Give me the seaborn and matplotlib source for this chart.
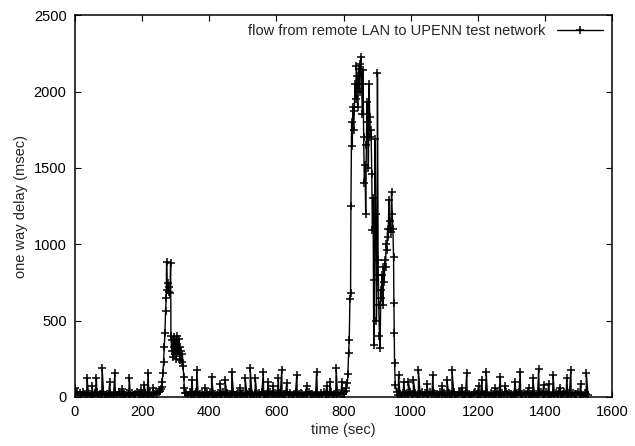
import numpy as np
import pandas as pd
import matplotlib
matplotlib.use("Agg")
import matplotlib.pyplot as plt
import seaborn as sns

# =========================
# DATA
# =========================
# quiet periods: one sample every 5 s, delay in msec
base1_start = 0
base1_vals = [20, 35, 15, 25, 10, 30, 18, 12, 28, 22, 15, 8, 25, 30, 12, 20, 18,
              35, 10, 22, 15, 28, 12, 18, 25, 10, 30, 20, 15, 22, 12, 28, 18, 10,
              25, 15, 20, 30, 12, 18, 22, 10, 28, 15, 20, 25, 12, 18, 30, 22, 35]
base2_start = 332
base2_vals = [25, 12, 30, 18, 10, 22, 35, 15, 20, 28, 12, 18, 25, 10, 30, 15, 22,
              18, 12, 28, 20, 15, 35, 10, 25, 18, 22, 12, 30, 15, 20, 28, 10, 18,
              25, 12, 22, 30, 15, 20, 10, 28, 18, 25, 12, 35, 15, 22, 20, 10, 30,
              18, 12, 25, 22, 15, 28, 10, 20, 18, 30, 12, 25, 15, 22, 35, 10, 18,
              28, 20, 12, 25, 15, 30, 22, 18, 10, 28, 20, 15, 25, 12, 35, 18, 22,
              10, 30, 15, 20, 28, 12, 25, 18, 22, 35, 40]
base3_start = 958
base3_vals = [30, 15, 22, 10, 28, 18, 25, 12, 35, 20, 15, 28, 10, 22, 18, 30, 12,
              25, 20, 15, 35, 10, 28, 18, 22, 12, 30, 15, 25, 20, 10, 28, 18, 22,
              35, 12, 15, 25, 30, 20, 10, 18, 28, 22, 15, 12, 25, 35, 20, 18, 10,
              30, 22, 15, 28, 12, 25, 18, 20, 10, 35, 22, 15, 28, 12, 30, 18, 25,
              20, 10, 22, 15, 28, 35, 12, 18, 25, 20, 30, 10, 22, 15, 28, 18, 12,
              25, 35, 20, 10, 30, 18, 22, 15, 28, 12, 25, 20, 35, 10, 18, 30, 22,
              15, 28, 12, 25, 20, 18, 30, 10, 22, 15, 25, 20, 12]

# isolated delay spikes in the quiet periods (time sec, delay msec)
spike1_t = [1, 36, 51, 64, 81, 104, 119, 141, 162, 196, 206, 218, 233]
spike1_v = [60, 124, 70, 124, 190, 100, 157, 50, 124, 45, 80, 157, 60]
spike2_t = [348, 363, 388, 407, 432, 447, 467, 492, 507, 522, 537, 561, 576,
            591, 606, 616, 631, 661, 690, 720, 750, 760, 778, 795]
spike2_v = [111, 177, 60, 133, 85, 111, 166, 60, 122, 188, 122, 166, 100,
            70, 122, 177, 90, 144, 70, 166, 70, 100, 188, 100]
spike3_t = [964, 979, 993, 1008, 1023, 1048, 1066, 1093, 1108, 1123, 1153, 1167,
            1202, 1212, 1225, 1252, 1267, 1282, 1311, 1326, 1351, 1364, 1381,
            1396, 1411, 1424, 1446, 1465, 1477, 1506, 1523]
spike3_v = [144, 100, 100, 111, 177, 85, 144, 70, 111, 177, 60, 155,
            70, 111, 166, 60, 133, 70, 100, 166, 60, 122, 181,
            80, 85, 144, 60, 122, 177, 85, 159]

# first congestion episode
burst1_t = [253, 256, 258, 260, 262, 264, 266, 268, 270, 272, 273, 275, 277,
            279, 281, 283, 285, 286, 288, 290, 292, 294, 296, 298, 300, 302,
            304, 306, 308, 310, 312, 314, 316, 318, 320, 322, 324, 326, 328]
burst1_v = [40, 55, 67, 100, 160, 230, 330, 420, 560, 650, 885, 700, 745,
            690, 720, 680, 875, 400, 300, 370, 260, 390, 330, 280, 360, 250,
            400, 310, 290, 380, 240, 330, 300, 230, 280, 200, 130, 60, 25]

# second congestion episode
burst2_t = [808, 811, 813, 815, 817, 819, 821, 822, 824, 826, 828, 830, 832,
            834, 836, 838, 840, 842, 844, 846, 848, 850, 852, 854, 856, 858,
            860, 862, 864, 866, 868, 870, 872, 874, 876, 878, 880, 882, 884,
            886, 888, 890, 892, 894, 896, 898, 900, 901, 903, 905, 907, 909,
            911, 913, 915, 917, 919, 921, 923, 925, 927, 929, 931, 933, 935,
            937, 939, 941, 943, 945, 947, 949, 950, 951, 952, 954]
burst2_v = [60, 90, 150, 285, 370, 640, 680, 1250, 1800, 1640, 1900, 1750, 1870,
            2050, 1950, 2170, 2100, 1900, 2050, 2150, 2000, 2180, 2226, 2050, 1850, 2139,
            1700, 1400, 1517, 1200, 1650, 1931, 1800, 1500, 2051, 1833, 1700, 1750, 1463,
            1092, 1300, 340, 765, 1692, 1200, 500, 800, 2123, 900, 600, 400, 318,
            700, 650, 800, 600, 852, 750, 900, 850, 1000, 961, 1100, 1050, 1288,
            1100, 1150, 1080, 1343, 1200, 1100, 917, 613, 417, 220, 80]

legend_label = "flow from remote LAN to UPENN test network"

# =========================
# ASSEMBLE
# =========================
parts = []
for start, vals in [(base1_start, base1_vals), (base2_start, base2_vals), (base3_start, base3_vals)]:
    parts.append(pd.DataFrame({"t": start + 5 * np.arange(len(vals)), "d": vals}))
for tt, vv in [(spike1_t, spike1_v), (spike2_t, spike2_v), (spike3_t, spike3_v),
               (burst1_t, burst1_v), (burst2_t, burst2_v)]:
    parts.append(pd.DataFrame({"t": tt, "d": vv}))
df = pd.concat(parts).sort_values("t", kind="stable").reset_index(drop=True)

# =========================
# PLOT
# =========================
sns.set_theme(style="ticks")
plt.rcParams["font.family"] = ["Liberation Sans", "DejaVu Sans"]

fig = plt.figure(figsize=(6.35, 4.46), dpi=100)
ax = fig.add_axes([0.118, 0.110, 0.846, 0.856])

sns.lineplot(data=df, x="t", y="d", ax=ax, color="black", linewidth=1.0,
             marker="+", markersize=6, markeredgewidth=1.1, markeredgecolor="black",
             estimator=None, sort=False, label=legend_label)

ax.set_xlim(0, 1600)
ax.set_ylim(0, 2500)
ax.set_xticks(np.arange(0, 1601, 200))
ax.set_yticks(np.arange(0, 2501, 500))
ax.tick_params(direction="in", top=True, right=True, length=4, width=0.8,
               labelsize=10.5, colors="black", pad=6)
for s in ax.spines.values():
    s.set_linewidth(1.1)
    s.set_color("black")

ax.set_xlabel("time (sec)", fontsize=10.5, labelpad=3)
ax.set_ylabel("one way delay (msec)", fontsize=10.5, labelpad=4)

leg = ax.legend(loc="upper right", frameon=False, markerfirst=False, fontsize=10.5,
                handlelength=3.2, borderaxespad=0.2, handletextpad=0.8)

fig.savefig("out.png", dpi=100)
